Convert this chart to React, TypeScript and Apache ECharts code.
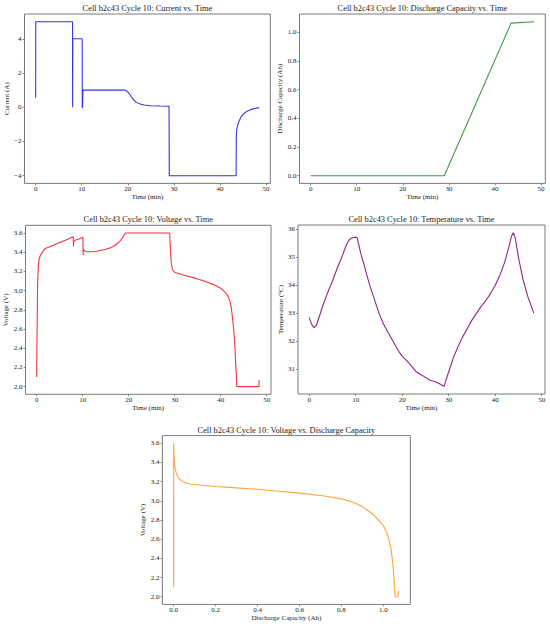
import React, { useEffect, useRef } from "react";
import * as echarts from "echarts";

// ---------- Data ----------
const currentTime = [0, 0.02, 8.0, 8.02, 8.06, 10.1, 10.12, 10.18, 10.25, 19.4, 19.8, 20.3, 20.8, 21.3, 21.8, 22.5, 23.5, 25, 27, 28.95, 29.0, 43.5, 43.55, 43.7, 44.0, 44.5, 45.0, 45.5, 46.0, 46.5, 47.0, 47.5, 48.5];
const currentValues = [0.55, 5.0, 5.0, 0.0, 4.0, 4.0, 0.0, -0.05, 1.0, 1.0, 0.95, 0.8, 0.6, 0.42, 0.3, 0.2, 0.13, 0.09, 0.07, 0.06, -4.0, -4.0, -1.6, -1.2, -0.9, -0.6, -0.42, -0.3, -0.22, -0.16, -0.11, -0.07, -0.02];

const capacityTime = [0, 29.0, 43.5, 48.5];
const capacityValues = [0, 0, 1.065, 1.075];

const voltageTime = [0, 0.1, 0.2, 0.35, 0.5, 0.75, 1.0, 1.5, 2, 3, 4, 5, 6, 7, 7.95, 8.0, 8.05, 8.2, 9, 10.05, 10.1, 10.15, 10.3, 10.6, 11, 12, 13, 14, 15, 16, 17, 17.5, 18, 18.5, 19, 19.4, 28.9, 29.0, 29.15, 29.3, 29.5, 29.8, 30.2, 31, 32, 33, 34, 35, 36, 37, 38, 39, 40, 40.5, 41, 41.5, 42, 42.3, 42.6, 42.9, 43.1, 43.3, 43.5, 48.3, 48.35];
const voltageValues = [2.1, 2.6, 3.05, 3.25, 3.32, 3.36, 3.38, 3.42, 3.44, 3.46, 3.48, 3.5, 3.52, 3.54, 3.56, 3.46, 3.52, 3.52, 3.535, 3.555, 3.37, 3.43, 3.42, 3.41, 3.405, 3.405, 3.41, 3.42, 3.43, 3.445, 3.47, 3.49, 3.51, 3.54, 3.58, 3.6, 3.6, 3.5, 3.35, 3.27, 3.22, 3.2, 3.185, 3.175, 3.16, 3.15, 3.135, 3.12, 3.105, 3.09, 3.07, 3.05, 3.025, 3.005, 2.98, 2.95, 2.89, 2.82, 2.7, 2.55, 2.4, 2.2, 2.0, 2.0, 2.07];

const temperatureTime = [0, 0.5, 1.0, 1.5, 2, 3, 4, 5, 6, 7, 8, 8.5, 9, 10, 10.3, 11, 12, 13, 14, 15, 16, 17, 18, 19, 20, 21, 22, 23, 24, 25, 26, 27, 28, 29, 30, 31, 32, 33, 34, 35, 36, 37, 38, 39, 40, 41, 42, 43, 43.5, 43.9, 44.3, 45, 46, 47, 48.3];
const temperatureValues = [32.85, 32.6, 32.48, 32.55, 32.8, 33.3, 33.75, 34.15, 34.6, 35.0, 35.45, 35.6, 35.68, 35.72, 35.7, 35.2, 34.6, 34.0, 33.5, 33.0, 32.6, 32.3, 32.0, 31.7, 31.45, 31.3, 31.1, 30.9, 30.8, 30.7, 30.6, 30.55, 30.47, 30.38, 30.9, 31.4, 31.8, 32.15, 32.45, 32.75, 33.0, 33.25, 33.45, 33.7, 34.0, 34.35, 34.8, 35.4, 35.75, 35.88, 35.7, 35.0, 34.2, 33.6, 33.0];

const vcCapacity = [0, 0, 0.002, 0.006, 0.012, 0.02, 0.03, 0.045, 0.06, 0.08, 0.1, 0.15, 0.2, 0.3, 0.4, 0.5, 0.6, 0.7, 0.75, 0.8, 0.85, 0.9, 0.95, 0.98, 1.0, 1.02, 1.035, 1.045, 1.052, 1.056, 1.07, 1.072];
const vcVoltage = [2.1, 3.6, 3.45, 3.35, 3.29, 3.25, 3.22, 3.2, 3.185, 3.175, 3.17, 3.16, 3.15, 3.135, 3.12, 3.1, 3.08, 3.055, 3.04, 3.02, 2.99, 2.94, 2.86, 2.79, 2.74, 2.65, 2.52, 2.35, 2.15, 2.0, 2.0, 2.06];

const timeTicks = [0, 10, 20, 30, 40, 50];
const currentTicks = [-4, -2, 0, 2, 4];
const capacityTicks = [0, 0.2, 0.4, 0.6, 0.8, 1.0];
const voltageTicks = [2.0, 2.2, 2.4, 2.6, 2.8, 3.0, 3.2, 3.4, 3.6];
const temperatureTicks = [31, 32, 33, 34, 35, 36];

const titles = [
  "Cell b2c43 Cycle 10: Current vs. Time",
  "Cell b2c43 Cycle 10: Discharge Capacity vs. Time",
  "Cell b2c43 Cycle 10: Voltage vs. Time",
  "Cell b2c43 Cycle 10: Temperature vs. Time",
  "Cell b2c43 Cycle 10: Voltage vs. Discharge Capacity",
];

const zip = (xs: number[], ys: number[]) => xs.map((x, i) => [x, ys[i]]);

const FONT = "Liberation Serif";
const FRAME = "#6b6b6b";
const TEXT = "#1a1a1a";

export default function App() {
  const ref = useRef<HTMLDivElement>(null);

  useEffect(() => {
    if (!ref.current) return;
    const chart = echarts.init(ref.current, undefined, { renderer: "svg" });

    const grids = [
      { left: 24.5, top: 14, width: 245.8, height: 169.4 },
      { left: 299.5, top: 14, width: 245.8, height: 169.4 },
      { left: 25.5, top: 225.3, width: 245.5, height: 169 },
      { left: 298, top: 225, width: 247, height: 169 },
      { left: 162.4, top: 435.6, width: 248, height: 168.8 },
    ];
    const titleY = [8.3, 219.8, 430];

    const fmtMinus = (s: string) => s.replace("-", "\u2212");

    const makeX = (idx: number, min: number, max: number, ticks: number[], name: string, dec: number) => ({
      type: "value",
      gridIndex: idx,
      min,
      max,
      name,
      nameLocation: "middle",
      nameGap: 10.5,
      nameTextStyle: { fontFamily: FONT, fontSize: 7, color: TEXT },
      axisLine: { show: false, onZero: false },
      splitLine: { show: false },
      axisTick: { show: true, inside: false, customValues: ticks, length: 2, lineStyle: { color: FRAME, width: 0.8 } },
      axisLabel: {
        customValues: ticks,
        margin: 2.5,
        fontFamily: FONT,
        fontSize: 7,
        color: TEXT,
        formatter: (v: number) => fmtMinus(v.toFixed(dec)),
      },
    });
    const makeY = (idx: number, min: number, max: number, ticks: number[], name: string, dec: number, gap: number) => ({
      type: "value",
      gridIndex: idx,
      min,
      max,
      name,
      nameLocation: "middle",
      nameGap: gap,
      nameTextStyle: { fontFamily: FONT, fontSize: 7, color: TEXT },
      axisLine: { show: false, onZero: false },
      splitLine: { show: false },
      axisTick: { show: true, inside: false, customValues: ticks, length: 2, lineStyle: { color: FRAME, width: 0.8 } },
      axisLabel: {
        customValues: ticks,
        margin: 3,
        fontFamily: FONT,
        fontSize: 7,
        color: TEXT,
        formatter: (v: number) => fmtMinus(v.toFixed(dec)),
      },
    });

    const line = (idx: number, data: number[][], color: string) => ({
      type: "line",
      xAxisIndex: idx,
      yAxisIndex: idx,
      data,
      symbol: "none",
      showSymbol: false,
      lineStyle: { color, width: 1.1 },
      itemStyle: { color },
      silent: true,
    });

    const centers = grids.map((g) => g.left + g.width / 2);

    chart.setOption({
      animation: false,
      backgroundColor: "#ffffff",
      grid: grids.map((g) => ({ ...g, show: true, borderColor: FRAME, borderWidth: 0.9, containLabel: false })),
      xAxis: [
        makeX(0, -2.425, 50.925, timeTicks, "Time (min)", 0),
        makeX(1, -2.425, 50.925, timeTicks, "Time (min)", 0),
        makeX(2, -2.425, 50.925, timeTicks, "Time (min)", 0),
        makeX(3, -2.415, 50.715, timeTicks, "Time (min)", 0),
        makeX(4, -0.05375, 1.12875, capacityTicks, "Discharge Capacity (Ah)", 1),
      ],
      yAxis: [
        makeY(0, -4.45, 5.45, currentTicks, "Current (A)", 0, 12),
        makeY(1, -0.05375, 1.12875, capacityTicks, "Discharge Capacity (Ah)", 1, 15),
        makeY(2, 1.92, 3.68, voltageTicks, "Voltage (V)", 1, 14),
        makeY(3, 30.105, 36.155, temperatureTicks, "Temperature (\u00B0C)", 0, 11),
        makeY(4, 1.92, 3.68, voltageTicks, "Voltage (V)", 1, 14),
      ],
      series: [
        line(0, zip(currentTime, currentValues), "#3232e8"),
        line(1, zip(capacityTime, capacityValues), "#3f9d44"),
        line(2, zip(voltageTime, voltageValues), "#f7323e"),
        line(3, zip(temperatureTime, temperatureValues), "#92238f"),
        line(4, zip(vcCapacity, vcVoltage), "#ffa53a"),
      ],
      graphic: titles.map((t, i) => ({
        type: "text",
        x: centers[i],
        y: i < 2 ? titleY[0] : i < 4 ? titleY[1] : titleY[2],
        style: {
          text: t,
          fontFamily: FONT,
          fontSize: 8.4,
          fill: TEXT,
          textAlign: "center",
          textVerticalAlign: "middle",
        },
      })),
    });

    return () => chart.dispose();
  }, []);

  return (
    <div
      ref={ref}
      style={{ position: "absolute", left: 0, top: 0, width: 550, height: 627, background: "#fff" }}
    />
  );
}
